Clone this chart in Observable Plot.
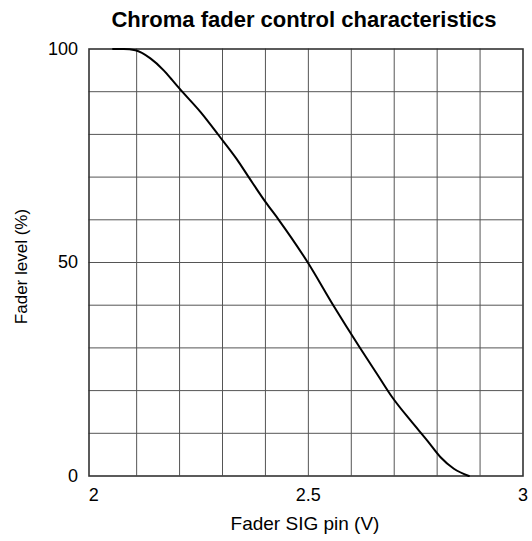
<!DOCTYPE html>
<html>
<head>
<meta charset="utf-8">
<script src="https://cdn.jsdelivr.net/npm/d3@7"></script>
<script src="https://cdn.jsdelivr.net/npm/@observablehq/plot@0.6"></script>
<style>
  html, body { margin: 0; padding: 0; background: #fff; }
  #chart { width: 532px; height: 541px; }
</style>
</head>
<body>
<div id="chart"></div>
<script>
// Data
const voltage = [2.045, 2.07, 2.097, 2.132, 2.163, 2.183, 2.200, 2.249, 2.291, 2.334, 2.361, 2.400, 2.431, 2.498, 2.559, 2.619, 2.660, 2.695, 2.738, 2.777, 2.808, 2.839, 2.874];
const level   = [100, 100, 99.7, 97.8, 95.0, 92.7, 90.7, 85.2, 79.8, 74.1, 70.0, 64.2, 60.0, 50.1, 39.8, 30.2, 23.9, 18.5, 13.0, 8.3, 4.4, 1.7, 0];

const xTicks = [2, 2.5, 3];
const xTickLabels = ["2", "2.5", "3"];
const yTicks = [0, 50, 100];
const yTickLabels = ["0", "50", "100"];
const xGrid = [2.1, 2.2, 2.3, 2.4, 2.5, 2.6, 2.7, 2.8, 2.9];
const yGrid = [10, 20, 30, 40, 50, 60, 70, 80, 90];

const titleText = "Chroma fader control characteristics";
const xLabel = "Fader SIG pin (V)";
const yLabel = "Fader level (%)";

const data = voltage.map((v, i) => ({v, l: level[i]}));
const font = "'Liberation Sans', Arial, Helvetica, sans-serif";

const chart = Plot.plot({
  width: 532,
  height: 541,
  marginLeft: 88.5,
  marginRight: 9.5,
  marginTop: 48.5,
  marginBottom: 65.5,
  style: { fontFamily: font, fontSize: "18px", background: "#fff", color: "#000", overflow: "visible" },
  x: { domain: [1.989, 3], axis: null },
  y: { domain: [0, 100], axis: null },
  marks: [
    Plot.gridX(xGrid, { stroke: "#555", strokeOpacity: 1, strokeWidth: 1 }),
    Plot.gridY(yGrid, { stroke: "#555", strokeOpacity: 1, strokeWidth: 1 }),
    Plot.frame({ stroke: "#333", strokeWidth: 1.6 }),
    Plot.line(data, { x: "v", y: "l", stroke: "#000", strokeWidth: 2, curve: "monotone-x" }),
    Plot.axisX(xTicks, { tickSize: 0, tickPadding: 12, fontSize: 18, label: null,
      tickFormat: (d) => xTickLabels[xTicks.indexOf(d)] }),
    Plot.axisY(yTicks, { tickSize: 0, tickPadding: 11, fontSize: 18, label: null,
      tickFormat: (d) => yTickLabels[yTicks.indexOf(d)] }),
    Plot.text([titleText], { text: (d) => d, frameAnchor: "top", lineAnchor: "middle", textAnchor: "middle",
      dy: -29, dx: -2, fontSize: 22, fontWeight: "bold", fill: "#000" }),
    Plot.text([xLabel], { text: (d) => d, frameAnchor: "bottom", lineAnchor: "middle", textAnchor: "middle",
      dy: 47.5, dx: -1, fontSize: 19, fill: "#000" }),
    Plot.text([yLabel], { text: (d) => d, frameAnchor: "left", lineAnchor: "middle", textAnchor: "middle",
      rotate: -90, dx: -67.5, dy: 4, fontSize: 17, fill: "#000" })
  ]
});
document.getElementById("chart").appendChild(chart);
</script>
</body>
</html>
